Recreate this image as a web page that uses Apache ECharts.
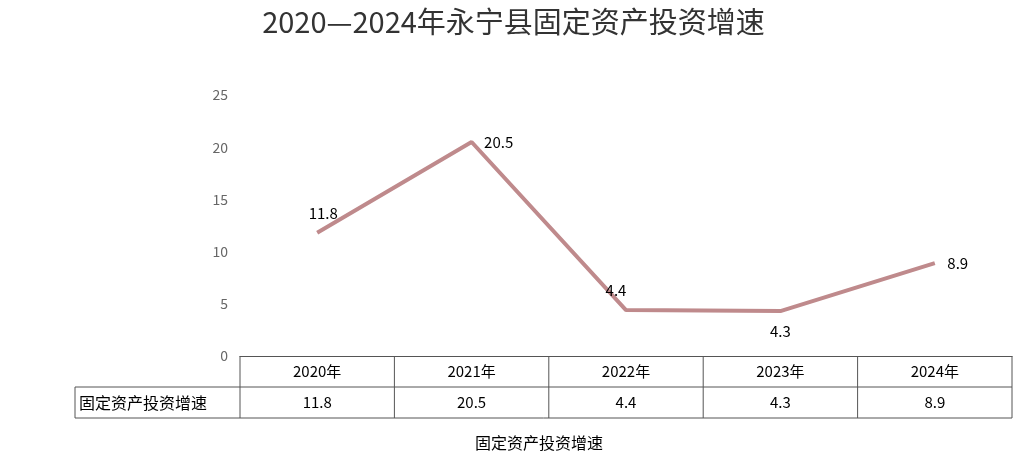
<!DOCTYPE html>
<html>
<head>
<meta charset="utf-8">
<script src="https://cdn.jsdelivr.net/npm/echarts@6/dist/echarts.min.js"></script>
</head>
<body style="margin:0">
<div id="main" style="width:1027px;height:462px;"></div>
<script type="text/javascript">
var years = ['2020年', '2021年', '2022年', '2023年', '2024年'];
var growth = [11.8, 20.5, 4.4, 4.3, 8.9];
var seriesName = '固定资产投资增速';
var labelPos = ['top', 'right', 'top', 'bottom', 'right'];

var myChart = echarts.init(document.getElementById('main'));
var font = '"Noto Sans CJK SC", "Noto Sans", sans-serif';

option = {
	textStyle: { fontFamily: font },
	title: {
		text: '2020—2024年永宁县固定资产投资增速',
		left: 'center',
		top: 2,
		textStyle: { fontSize: 29, fontWeight: 'normal', color: '#333', fontFamily: font }
	},
	legend: {
		data: [seriesName],
		bottom: 6,
		left: 'center',
		icon: 'rect',
		itemWidth: 46,
		itemHeight: 4,
		textStyle: { fontSize: 16, color: '#000' }
	},
	grid: { left: 240, right: 15, top: 95, bottom: 106 },
	xAxis: {
		type: 'category',
		data: years,
		axisTick: { show: false },
		axisLine: { lineStyle: { color: '#555' } },
		axisLabel: { color: '#000', fontSize: 15, margin: 8 }
	},
	yAxis: {
		type: 'value',
		min: 0, max: 25, interval: 5,
		splitLine: { show: false },
		axisLine: { show: false },
		axisTick: { show: false },
		axisLabel: { color: '#666', fontSize: 14, margin: 12 }
	},
	series: [{
		name: seriesName,
		type: 'line',
		data: growth.map(function (v, i) {
			return { value: v, label: { position: labelPos[i], offset: i === 0 ? [6, 0] : (i === 2 ? [-10, 0] : [0, 0]) } };
		}),
		symbol: 'circle',
		symbolSize: 1,
		lineStyle: { color: '#bf8a8c', width: 4 },
		itemStyle: { color: '#bf8a8c', opacity: 0 },
		label: { show: true, fontSize: 15, color: '#000', distance: 12, opacity: 1 }
	}]
};
myChart.setOption(option);

// data table under the plot
function drawTable() {
	var g = [];
	var x0 = myChart.convertToPixel({ xAxisIndex: 0 }, 0);
	var x1 = myChart.convertToPixel({ xAxisIndex: 0 }, 1);
	var w = x1 - x0;
	var left = x0 - w / 2, right = left + w * years.length;
	var yTop = myChart.convertToPixel({ yAxisIndex: 0 }, 0);
	var rowH = 31;
	var st = { stroke: '#555', lineWidth: 1 };
	var outer = 75;
	g.push({ type: 'line', shape: { x1: left, y1: yTop + rowH, x2: right, y2: yTop + rowH }, style: st });
	g.push({ type: 'line', shape: { x1: outer, y1: yTop + rowH, x2: left, y2: yTop + rowH }, style: st });
	g.push({ type: 'line', shape: { x1: outer, y1: yTop + 2 * rowH, x2: right, y2: yTop + 2 * rowH }, style: st });
	g.push({ type: 'line', shape: { x1: outer, y1: yTop + rowH, x2: outer, y2: yTop + 2 * rowH }, style: st });
	for (var i = 0; i <= years.length; i++) {
		g.push({ type: 'line', shape: { x1: left + w * i, y1: yTop, x2: left + w * i, y2: yTop + 2 * rowH }, style: st });
	}
	g.push({ type: 'text', x: outer + 4, y: yTop + rowH * 1.5, style: { text: seriesName, fontSize: 16, fill: '#000', verticalAlign: 'middle', fontFamily: font } });
	growth.forEach(function (v, i) {
		g.push({ type: 'text', x: left + w * (i + 0.5), y: yTop + rowH * 1.5, style: { text: String(v), fontSize: 15, fill: '#000', align: 'center', verticalAlign: 'middle', fontFamily: font } });
	});
	myChart.setOption({ graphic: g });
}
drawTable();
</script>
</body>
</html>
